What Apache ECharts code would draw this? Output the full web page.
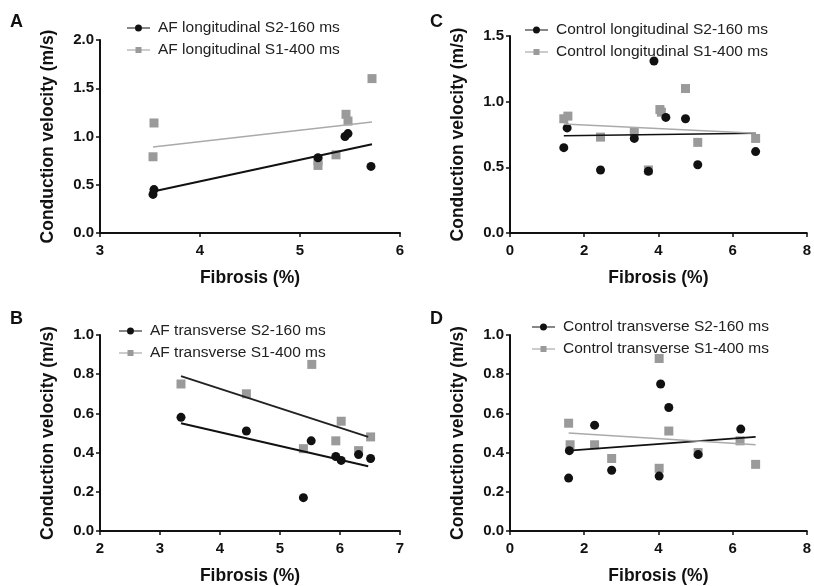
<!DOCTYPE html>
<html><head><meta charset="utf-8">
<script src="https://cdn.jsdelivr.net/npm/echarts@6/dist/echarts.min.js"></script>
<style>html,body{margin:0;padding:0;background:#fff}#c{width:814px;height:586px}</style>
</head><body><div id="c"></div>
<script>
// Panel A: AF longitudinal
const aS2 = [[3.53,0.40],[3.54,0.45],[5.18,0.78],[5.45,1.00],[5.48,1.03],[5.71,0.69]];
const aS1 = [[3.54,1.14],[3.53,0.79],[5.18,0.70],[5.18,0.75],[5.36,0.81],[5.46,1.23],[5.48,1.16],[5.72,1.60]];
const aFitS2 = [[3.53,0.43],[5.72,0.92]];
const aFitS1 = [[3.53,0.89],[5.72,1.15]];
// Panel C: Control longitudinal
const cS2 = [[1.45,0.65],[1.54,0.80],[2.44,0.48],[3.35,0.72],[3.73,0.47],[3.88,1.31],[4.20,0.88],[4.73,0.87],[5.06,0.52],[6.62,0.62]];
const cS1 = [[1.45,0.87],[1.56,0.89],[2.44,0.73],[3.35,0.77],[3.73,0.48],[4.04,0.94],[4.08,0.92],[4.73,1.10],[5.06,0.69],[6.62,0.72]];
const cFitS2 = [[1.45,0.74],[6.62,0.76]];
const cFitS1 = [[1.45,0.83],[6.62,0.76]];
// Panel B: AF transverse
const bS2 = [[3.35,0.58],[4.44,0.51],[5.39,0.17],[5.52,0.46],[5.93,0.38],[6.02,0.36],[6.31,0.39],[6.51,0.37]];
const bS1 = [[3.35,0.75],[4.44,0.70],[5.39,0.42],[5.53,0.85],[5.93,0.46],[6.02,0.56],[6.31,0.41],[6.51,0.48]];
const bFitS2 = [[3.35,0.55],[6.47,0.33]];
const bFitS1 = [[3.35,0.79],[6.47,0.48]];
// Panel D: Control transverse
const dS2 = [[1.58,0.27],[1.60,0.41],[2.28,0.54],[2.74,0.31],[4.02,0.28],[4.06,0.75],[4.28,0.63],[5.07,0.39],[6.22,0.52]];
const dS1 = [[1.58,0.55],[1.62,0.44],[2.28,0.44],[2.74,0.37],[4.02,0.88],[4.02,0.32],[4.28,0.51],[5.07,0.40],[6.20,0.46],[6.62,0.34]];
const dFitS2 = [[1.58,0.41],[6.62,0.48]];
const dFitS1 = [[1.58,0.50],[6.62,0.44]];

const names = {
  aS2:'AF longitudinal S2-160 ms', aS1:'AF longitudinal S1-400 ms',
  cS2:'Control longitudinal S2-160 ms', cS1:'Control longitudinal S1-400 ms',
  bS2:'AF transverse S2-160 ms', bS1:'AF transverse S1-400 ms',
  dS2:'Control transverse S2-160 ms', dS1:'Control transverse S1-400 ms'
};
const xTitle = 'Fibrosis (%)';
const yTitle = 'Conduction velocity (m/s)';

const FONT = '"Liberation Sans", Arial, sans-serif';
const BLACK = '#111111', GRAY = '#9a9a9a';
const circleIcon = 'path://M0,4.4 L23,4.4 L23,5.6 L0,5.6 Z M11.5,1.5 A3.5,3.5 0 1,1 11.49,1.5 Z';
const squareIcon = 'path://M0,4.4 L23,4.4 L23,5.6 L0,5.6 Z M8.5,2 L14.5,2 L14.5,8 L8.5,8 Z';

const grids = [
  {left:100, top:40, width:300, height:193},
  {left:510, top:36, width:300, height:197},
  {left:100, top:335, width:300, height:197},
  {left:510, top:335, width:300, height:197}
];
const xr = [[3,6,1],[0,8,2],[2,7,1],[0,8,2]];
const yr = [[0,2,0.5],[0,1.5,0.5],[0,1,0.2],[0,1,0.2]];
const axisCommon = {
  axisLine:{show:true, onZero:false, lineStyle:{color:'#111', width:2}},
  axisTick:{show:true, length:4, lineStyle:{color:'#111', width:1.5}},
  splitLine:{show:false},
  axisLabel:{color:'#111', fontWeight:'bold', fontSize:15, fontFamily:FONT},
  nameTextStyle:{color:'#111', fontWeight:'bold', fontSize:17.5, fontFamily:FONT}
};
const xAxis = xr.map((r,i)=>Object.assign({}, axisCommon, {
  type:'value', gridIndex:i, min:r[0], max:r[1], interval:r[2],
  name:xTitle, nameLocation:'middle', nameGap:36,
  axisLabel:Object.assign({}, axisCommon.axisLabel, {margin:10})
}));
const yAxis = yr.map((r,i)=>Object.assign({}, axisCommon, {
  type:'value', gridIndex:i, min:r[0], max:r[1], interval:r[2],
  name:yTitle, nameLocation:'middle', nameGap:43,
  axisLabel:Object.assign({}, axisCommon.axisLabel, {margin:6, formatter:v=>v.toFixed(1)})
}));

const panels = [
  {s2:aS2, s1:aS1, f2:aFitS2, f1:aFitS1, n2:names.aS2, n1:names.aS1, lw:2, f1c:'#aaaaaa', f1w:1.5},
  {s2:cS2, s1:cS1, f2:cFitS2, f1:cFitS1, n2:names.cS2, n1:names.cS1, lw:1.6, f1c:'#aaaaaa', f1w:1.5},
  {s2:bS2, s1:bS1, f2:bFitS2, f1:bFitS1, n2:names.bS2, n1:names.bS1, lw:2, f1c:'#222222', f1w:2},
  {s2:dS2, s1:dS1, f2:dFitS2, f1:dFitS1, n2:names.dS2, n1:names.dS1, lw:1.6, f1c:'#aaaaaa', f1w:1.5}
];
const series = [];
panels.forEach((p,i)=>{
  series.push({type:'scatter', name:p.n1, xAxisIndex:i, yAxisIndex:i, data:p.s1, symbol:'rect', symbolSize:9, itemStyle:{color:GRAY, opacity:1}, z:2});
  series.push({type:'scatter', name:p.n2, xAxisIndex:i, yAxisIndex:i, data:p.s2, symbol:'circle', symbolSize:9, itemStyle:{color:BLACK, opacity:1}, z:3});
  series.push({type:'line', name:p.n2+' fit', xAxisIndex:i, yAxisIndex:i, data:p.f2, showSymbol:false, symbol:'none', lineStyle:{color:'#111', width:p.lw}, z:4, silent:true});
  series.push({type:'line', name:p.n1+' fit', xAxisIndex:i, yAxisIndex:i, data:p.f1, showSymbol:false, symbol:'none', lineStyle:{color:p.f1c, width:p.f1w}, z:4, silent:true});
});

const legPos = [[122,15],[520,17],[114,318],[527,314]];
const legend = panels.map((p,i)=>({
  left:legPos[i][0], top:legPos[i][1], orient:'vertical', itemGap:6,
  itemWidth:23, itemHeight:10,
  data:[{name:p.n2, icon:circleIcon},{name:p.n1, icon:squareIcon}],
  textStyle:{color:'#222', fontSize:15.5, fontFamily:FONT, padding:[0,0,0,3]}, selectedMode:false
}));

const letters = [['A',10,13],['C',430,13],['B',10,310],['D',430,310]];
const graphic = letters.map(l=>({type:'text', left:l[1], top:l[2], style:{text:l[0], font:'bold 18px '+FONT, fill:'#111'}}));

const chart = echarts.init(document.getElementById('c'), null, {renderer:'canvas'});
chart.setOption({
  animation:false, backgroundColor:'#fff',
  grid:grids, xAxis, yAxis, series, legend, graphic
});
</script></body></html>
